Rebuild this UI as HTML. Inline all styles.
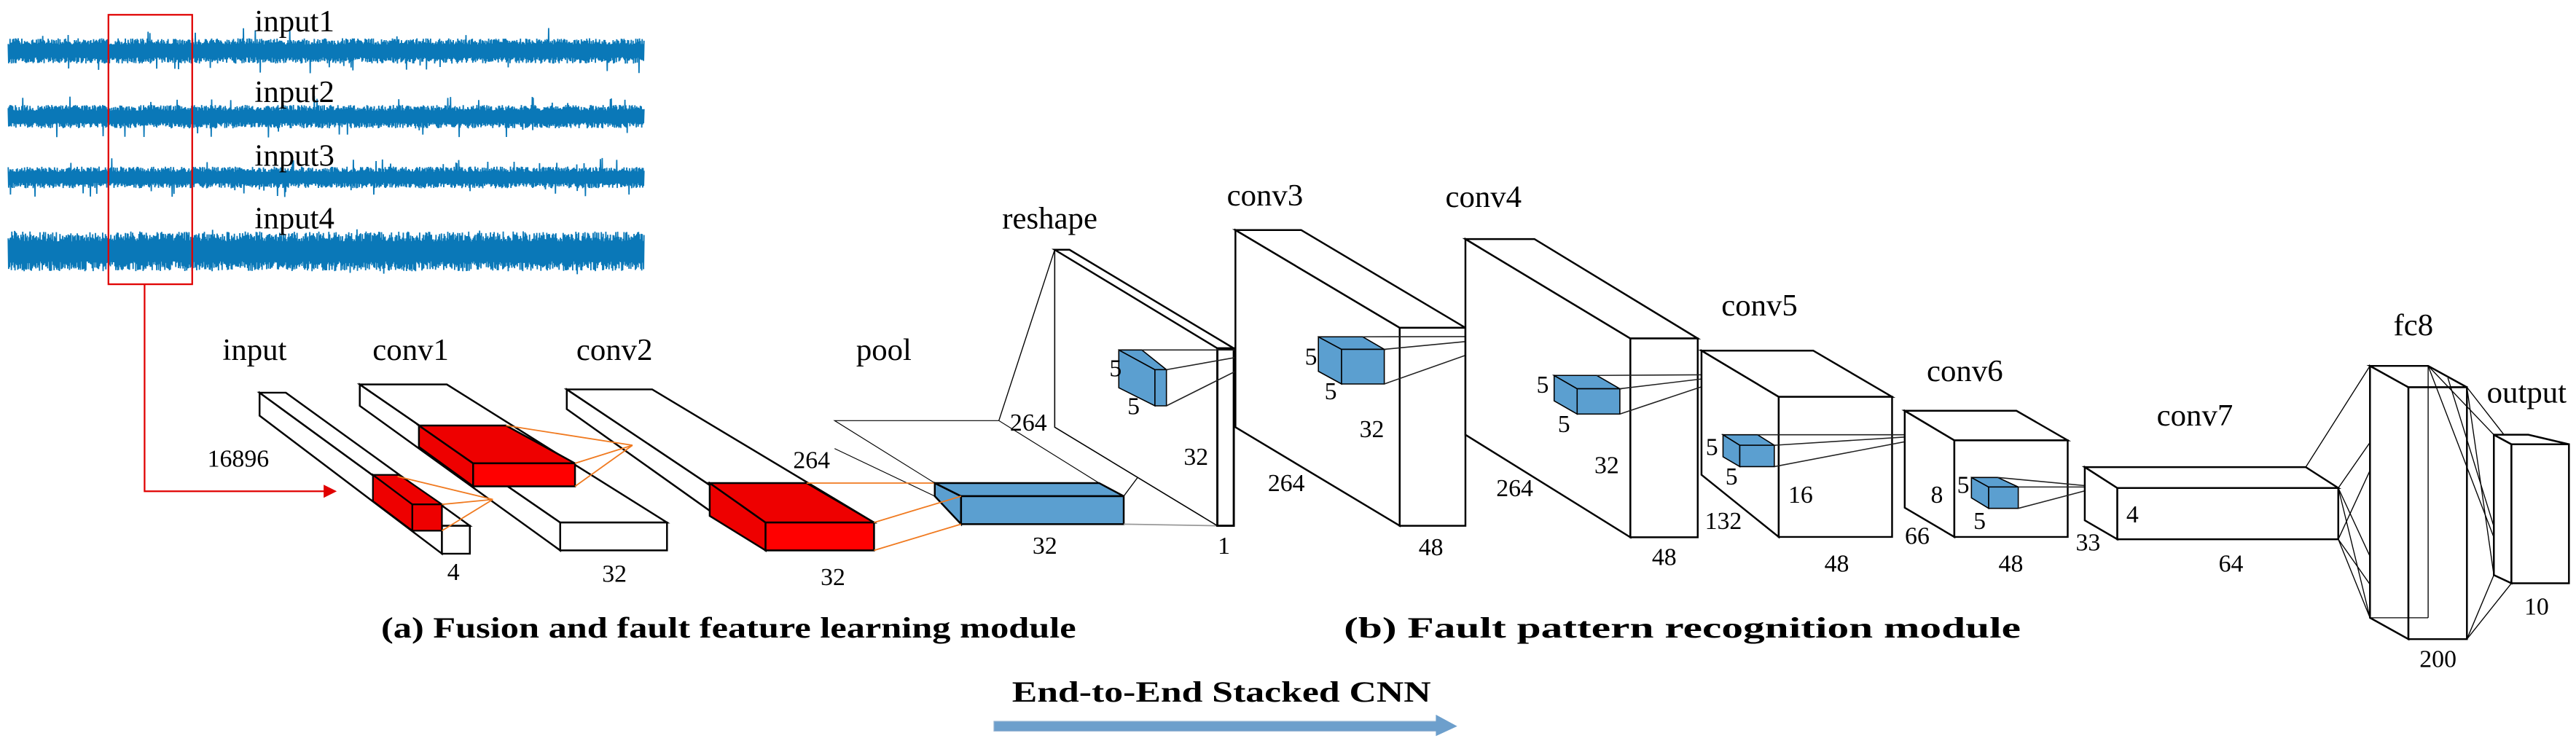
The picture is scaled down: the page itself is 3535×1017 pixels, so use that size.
<!DOCTYPE html>
<html><head><meta charset="utf-8"><style>
html,body{margin:0;padding:0;background:#fff;}
svg{display:block;}
svg text{font-family:"Liberation Serif","Times New Roman","DejaVu Serif",serif !important;}
</style></head><body>
<svg id="s" xmlns="http://www.w3.org/2000/svg" width="3535" height="1017" viewBox="0 0 1568 451" preserveAspectRatio="none">
<g id="waves"></g>
<rect x="66" y="9" width="51" height="164" fill="none" stroke="#e00000" stroke-width="1"/>
<polyline points="88,173 88,299 198,299" fill="none" stroke="#e00000" stroke-width="1"/>
<polygon points="197,295 205,299 197,303" fill="#e00000"/>
<g id="boxes"></g>
<g font-size="19">
<text x="155" y="19" >input1</text>
<text x="155" y="62" >input2</text>
<text x="155" y="101">input3</text>
<text x="155" y="139">input4</text>
<text x="155" y="219" text-anchor="middle">input</text>
<text x="250" y="219" text-anchor="middle">conv1</text>
<text x="374" y="219" text-anchor="middle">conv2</text>
<text x="538" y="219" text-anchor="middle">pool</text>
<text x="639" y="139" text-anchor="middle">reshape</text>
<text x="770" y="125" text-anchor="middle">conv3</text>
<text x="903" y="126" text-anchor="middle">conv4</text>
<text x="1071" y="192" text-anchor="middle">conv5</text>
<text x="1196" y="232" text-anchor="middle">conv6</text>
<text x="1336" y="259" text-anchor="middle">conv7</text>
<text x="1469" y="204" text-anchor="middle">fc8</text>
<text x="1538" y="245" text-anchor="middle">output</text>
</g>
<g font-size="15" text-anchor="middle">
<text x="145" y="284">16896</text>
<text x="276" y="353">4</text>
<text x="374" y="354">32</text>
<text x="507" y="356">32</text>
<text x="636" y="337">32</text>
<text x="745" y="337">1</text>
<text x="494" y="285">264</text>
<text x="626" y="262">264</text>
<text x="728" y="283">32</text>
<text x="679" y="229">5</text>
<text x="690" y="252">5</text>
<text x="798" y="222">5</text>
<text x="810" y="243">5</text>
<text x="835" y="266">32</text>
<text x="783" y="299">264</text>
<text x="871" y="338">48</text>
<text x="939" y="239">5</text>
<text x="952" y="263">5</text>
<text x="978" y="288">32</text>
<text x="922" y="302">264</text>
<text x="1013" y="344">48</text>
<text x="1042" y="277">5</text>
<text x="1054" y="295">5</text>
<text x="1096" y="306">16</text>
<text x="1049" y="322">132</text>
<text x="1118" y="348">48</text>
<text x="1179" y="306">8</text>
<text x="1195" y="300">5</text>
<text x="1205" y="322">5</text>
<text x="1167" y="331">66</text>
<text x="1224" y="348">48</text>
<text x="1298" y="318">4</text>
<text x="1271" y="335">33</text>
<text x="1358" y="348">64</text>
<text x="1484" y="406">200</text>
<text x="1544" y="374">10</text>
</g>
<g font-size="18" font-weight="bold">
<text x="232" y="388" textLength="423" lengthAdjust="spacingAndGlyphs">(a)  Fusion and fault feature learning module</text>
<text x="818" y="388" textLength="412" lengthAdjust="spacingAndGlyphs">(b)  Fault pattern recognition module</text>
<text x="616" y="427" textLength="255" lengthAdjust="spacingAndGlyphs">End-to-End Stacked CNN</text>
</g>
<rect x="605" y="439" width="270" height="6" fill="#6d9fcc" stroke="#9bb7d4" stroke-width="0.5"/>
<polygon points="874,435 887,442 874,448" fill="#6d9fcc"/>
</svg>
<script>
(function(){
var NS="http://www.w3.org/2000/svg";
var seed=12345;function rnd(){seed=(seed*16807)%2147483647;return seed/2147483647;}
var W=document.getElementById('waves');
var cfg=[[31,7,14],[71,6.5,13],[108,6,12],[153,11,14]];
cfg.forEach(function(c){
 var pts=[];var n=1400;
 for(var i=0;i<=n;i++){
  var x=5+387*i/n; var a=c[1]*(0.55+0.55*rnd());
  if(rnd()<0.025)a=c[2]*(0.6+0.4*rnd());
  var y=c[0]+(i%2?a:-a);
  pts.push(x.toFixed(2)+','+y.toFixed(2));
 }
 var p=document.createElementNS(NS,'polyline');
 p.setAttribute('points',pts.join(' '));p.setAttribute('fill','none');
 p.setAttribute('stroke','#0a78b8');p.setAttribute('stroke-width','0.8');
 W.appendChild(p);
 var r=document.createElementNS(NS,'rect');
 r.setAttribute('x',5);r.setAttribute('width',387);r.setAttribute('y',c[0]-c[1]*0.45);r.setAttribute('height',c[1]*0.9);r.setAttribute('fill','#0a78b8');
 W.appendChild(r);
});
var B=document.getElementById('boxes');
function el(t,a){var e=document.createElementNS(NS,t);for(var k in a)e.setAttribute(k,a[k]);B.appendChild(e);return e;}
function poly(pts,fill,sw,st){el('polygon',{points:pts.map(function(p){return p[0]+','+p[1]}).join(' '),fill:fill,stroke:st||'#000','stroke-width':sw,'stroke-linejoin':'miter'});}
function line(x1,y1,x2,y2,c,sw){el('line',{x1:x1,y1:y1,x2:x2,y2:y2,stroke:c||'#000','stroke-width':sw||0.6});}
function box(bx,by,w,fx,fy,fw,fb,bb,fill,top,side,sw){
 sw=sw||1.1;
 poly([[bx,by],[fx,fy],[fx,fb],[bx,bb]],side||fill,sw);
 poly([[bx,by],[bx+w,by],[fx+fw,fy],[fx,fy]],top||fill,sw);
 poly([[fx,fy],[fx+fw,fy],[fx+fw,fb],[fx,fb]],fill,sw);
}
function cube(bx,by,w,fx,fy,fw,fb,bb,ax,ay){
 box(bx,by,w,fx,fy,fw,fb,bb,'#5b9fd0','#5b9fd0','#5b9fd0',0.7);
 line(bx+w,by,ax,ay,'#222',0.7);line(fx+fw,fy,ax,ay,'#222',0.7);line(fx+fw,fb,ax,ay,'#222',0.7);
}
var OR='#f07a20';
box(158,239,16,269,320,17,337,253,'#fff');
box(227,289,16,251,307,18,323,305,'#ee0000','#ee0000','#ee0000',1);
box(219,234,53,341,318,65,335,247,'#fff');
box(255,259,53,288,282,62,296,272,'#ff0000','#ee0000','#ee0000',1.1);
line(242,290,300,304,OR,0.8);line(269,307,300,304,OR,0.8);line(269,323,300,304,OR,0.8);
box(345,237,52,466,318,66,335,249,'#fff');
box(432,294,59,466,318,66,335,314,'#ff0000','#ee0000','#ee0000',1.1);
line(308,259,385,271,OR,0.8);line(350,282,385,271,OR,0.8);line(350,296,385,271,OR,0.8);
poly([[508,256],[608,256],[669,294],[569,294]],'#fff',0.5);
line(508,273,569,302,'#000',0.5);
line(491,294,569,294,OR,0.8);
box(569,294,100,585,302,99,319,302,'#5b9fd0','#5b9fd0','#5b9fd0',1.1);
line(532,318,585,302,OR,0.8);line(532,335,585,319,OR,0.8);
line(608,256,642,152,'#000',0.6);line(684,302,751,212,'#000',0.6);line(684,319,741,320,'#999',0.8);
poly([[642,152],[741,212],[741,320],[642,260]],'#fff',0.7);
poly([[642,152],[651,152],[751,212],[741,212]],'#fff',1.1);
poly([[741,212],[751,212],[751,320],[741,320]],'#fff',1.3);
cube(681,213,14,703,225,7,247,236,778,213);
box(752,140,40,852,199.5,40,320,260,'#fff');
cube(802.5,205,27,816.6,212.6,26,233.7,226,924.6,204.8);
box(892,145.5,42,992.4,206,41,327,264.6,'#fff');
cube(946,228.5,26,960,236.6,26,252,244,1058,228);
box(1035.7,213.4,68,1082.7,241.5,69,326.8,289,'#fff');
cube(1048.8,264.6,21,1059,271,21,284,278,1181.8,264.6);
box(1159.4,250,68,1189.6,268,69,326.8,309,'#fff');
cube(1200,290.6,16,1210.5,296.4,18,309.4,303,1278,296.4);
box(1269,284.3,134.5,1288.8,297,134.5,328.2,316.7,'#fff');
line(1403.5,284.3,1442.6,222.7);line(1423.3,297,1466,235.7);line(1423.3,297,1466,389);
line(1423.3,328.2,1442.6,376);line(1423.3,328.2,1466,235.7);line(1423.3,328.2,1466,389);line(1423.3,297,1442.6,376);
box(1442.6,222.7,35.4,1466,235.7,35.6,389,376,'#fff',null,null,1.1);
line(1478,222.7,1478,376,'#000',0.6);line(1442.6,376,1478,376,'#000',0.6);
line(1478,222.7,1518,264.6);line(1501.6,235.7,1528.7,270.4);line(1478,222.7,1528.7,355);
line(1501.6,389,1518,350);line(1501.6,389,1528.7,355);line(1501.6,235.7,1518,350);line(1490,230,1528.7,355);
box(1518,264.6,21,1528.7,270.4,35,355,350,'#fff');
})();
</script>
</body></html>
